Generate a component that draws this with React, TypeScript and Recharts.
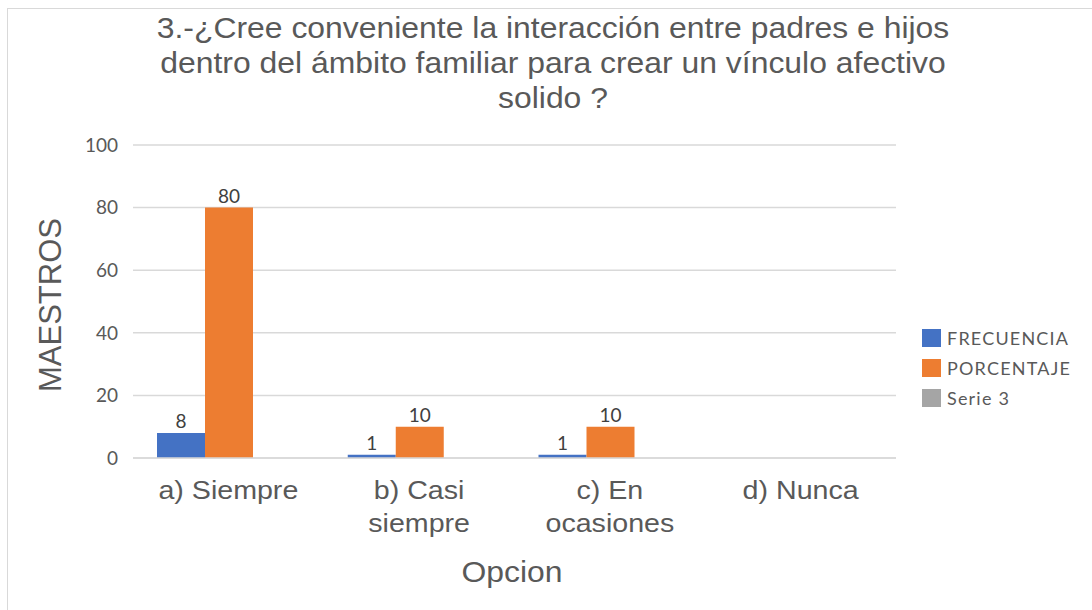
import { BarChart, Bar, XAxis, YAxis, CartesianGrid, LabelList } from 'recharts'

const categories = ['a) Siempre', 'b) Casi\nsiempre', 'c) En\nocasiones', 'd) Nunca']
const frecuencia: (number | null)[] = [8, 1, 1, null]
const porcentaje: (number | null)[] = [80, 10, 10, null]
const serie3: (number | null)[] = [null, null, null, null]
const yTicks = [0, 20, 40, 60, 80, 100]

const titleLines = [
  '3.-¿Cree conveniente la interacción entre padres e hijos',
  'dentro del ámbito familiar para crear un vínculo afectivo',
  'solido ?',
]

const series = [
  { key: 'frecuencia', name: 'FRECUENCIA', color: '#4472C4' },
  { key: 'porcentaje', name: 'PORCENTAJE', color: '#ED7D31' },
  { key: 'serie3', name: 'Serie 3', color: '#A5A5A5' },
]

const TEXT = '#595959'
const SANS = '"Liberation Sans", Arial, sans-serif'
const LEGEND_FONT = 'Lato, "Open Sans", sans-serif'

function CategoryTick(props: any) {
  const { x, y, payload } = props
  const lines = String(payload.value).split('\n')
  return (
    <g transform={`translate(${x},${y}) scale(1.1,1)`}>
      <text x={0} y={0} textAnchor="middle" fill={TEXT} fontSize={26} fontFamily={SANS}>
        {lines.map((line, i) => (
          <tspan key={i} x={0} dy={33}>{line}</tspan>
        ))}
      </text>
    </g>
  )
}

export default function App() {
  const data = categories.map((c, i) => ({
    name: c,
    frecuencia: frecuencia[i],
    porcentaje: porcentaje[i],
    serie3: serie3[i],
  }))

  return (
    <div style={{ position: 'relative', width: 1092, height: 610, overflow: 'hidden', background: '#fff' }}>
      <style>{'body{margin:0}'}</style>
      <div style={{ position: 'absolute', left: 7, top: 8, width: 1200, height: 700, borderLeft: '1px solid #D9D9D9', borderTop: '1px solid #D9D9D9' }} />

      <div style={{ position: 'absolute', left: 0, top: 11, width: 1106, textAlign: 'center', fontFamily: SANS, fontSize: 29, lineHeight: '35px', color: TEXT, transform: 'scaleX(1.1)', transformOrigin: '553px 0' }}>
        {titleLines.map((l, i) => <div key={i}>{l}</div>)}
      </div>

      <BarChart
        width={1092}
        height={610}
        data={data}
        margin={{ top: 145, right: 196, left: 73, bottom: 92 }}
        barCategoryGap={24}
        barGap={0}
      >
        <CartesianGrid vertical={false} stroke="#D9D9D9" strokeWidth={1.5} />
        <XAxis
          dataKey="name"
          height={60}
          tick={<CategoryTick />}
          tickLine={false}
          axisLine={{ stroke: '#D9D9D9', strokeWidth: 1.5 }}
          interval={0}
        />
        <YAxis
          width={60}
          domain={[0, 100]}
          ticks={yTicks}
          tickLine={false}
          axisLine={false}
          tickSize={13}
          tickMargin={2}
          tick={{ fill: TEXT, fontSize: 19, fontFamily: LEGEND_FONT }}
        />
        {series.map((s) => (
          <Bar key={s.key} dataKey={s.key} name={s.name} fill={s.color} isAnimationActive={false}>
            {s.key !== 'serie3' && (
              <LabelList dataKey={s.key} position="top" fill="#404040" fontSize={19} fontFamily={LEGEND_FONT} />
            )}
          </Bar>
        ))}
      </BarChart>

      <div style={{ position: 'absolute', left: 50, top: 305, transform: 'translate(-50%, -50%) rotate(-90deg)', whiteSpace: 'nowrap', fontFamily: SANS, fontSize: 31, color: TEXT, lineHeight: 1 }}>
        MAESTROS
      </div>

      <div style={{ position: 'absolute', left: 412, top: 558, width: 200, textAlign: 'center', fontFamily: SANS, fontSize: 29, color: TEXT, lineHeight: 1, transform: 'scaleX(1.1)' }}>
        Opcion
      </div>

      <div style={{ position: 'absolute', left: 922, top: 328 }}>
        {series.map((s) => (
          <div key={s.key} style={{ display: 'flex', alignItems: 'center', height: 30 }}>
            <span style={{ width: 19, height: 18, background: s.color, display: 'inline-block', marginRight: 6, marginTop: -10 }} />
            <span style={{ fontFamily: LEGEND_FONT, fontSize: 18, color: TEXT, letterSpacing: 1.2, marginTop: -10 }}>{s.name}</span>
          </div>
        ))}
      </div>
    </div>
  )
}
